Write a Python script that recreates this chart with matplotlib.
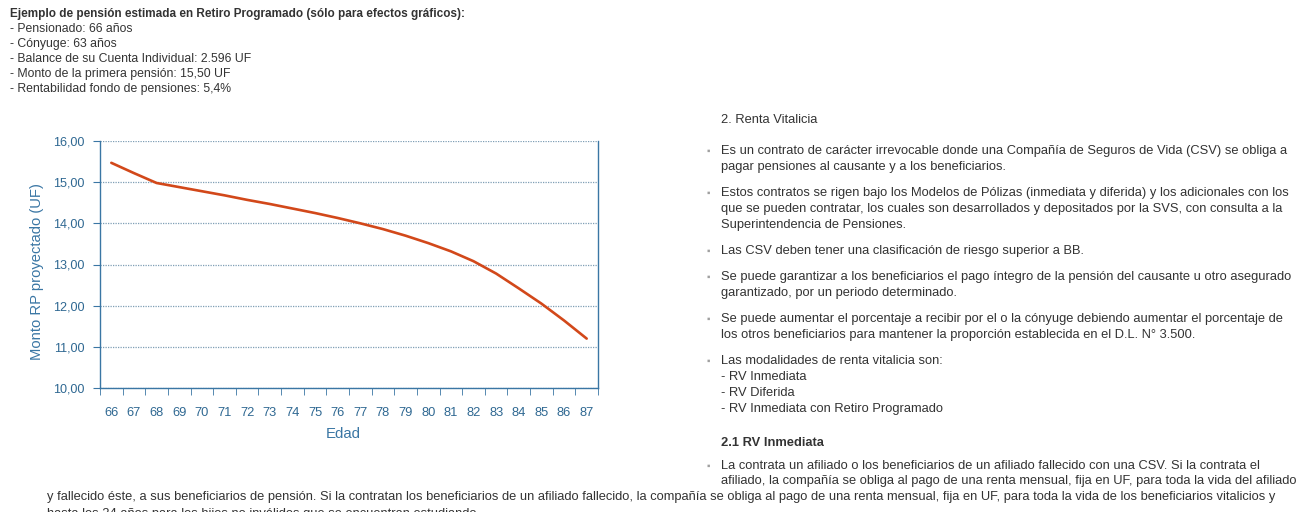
import matplotlib
matplotlib.use("Agg")
import matplotlib.pyplot as plt

# Ages (x categories) and projected pension (UF)
ages = [66, 67, 68, 69, 70, 71, 72, 73, 74, 75, 76, 77, 78, 79, 80, 81, 82, 83, 84, 85, 86, 87]
monto = [15.47, 15.22, 14.98, 14.88, 14.78, 14.68, 14.57, 14.47, 14.36, 14.25, 14.13, 14.00,
         13.86, 13.70, 13.52, 13.32, 13.08, 12.78, 12.42, 12.05, 11.64, 11.20]
yticks = [10, 11, 12, 13, 14, 15, 16]

header = "Ejemplo de pensión estimada en Retiro Programado (sólo para efectos gráficos):"
header_lines = [
    "- Pensionado: 66 años",
    "- Cónyuge: 63 años",
    "- Balance de su Cuenta Individual: 2.596 UF",
    "- Monto de la primera pensión: 15,50 UF",
    "- Rentabilidad fondo de pensiones: 5,4%",
]

bullets = [
    ["Es un contrato de carácter irrevocable donde una Compañía de Seguros de Vida (CSV) se obliga a",
     "pagar pensiones al causante y a los beneficiarios."],
    ["Estos contratos se rigen bajo los Modelos de Pólizas (inmediata y diferida) y los adicionales con los",
     "que se pueden contratar, los cuales son desarrollados y depositados por la SVS, con consulta a la",
     "Superintendencia de Pensiones."],
    ["Las CSV deben tener una clasificación de riesgo superior a BB."],
    ["Se puede garantizar a los beneficiarios el pago íntegro de la pensión del causante u otro asegurado",
     "garantizado, por un periodo determinado."],
    ["Se puede aumentar el porcentaje a recibir por el o la cónyuge debiendo aumentar el porcentaje de",
     "los otros beneficiarios para mantener la proporción establecida en el D.L. N° 3.500."],
    ["Las modalidades de renta vitalicia son:",
     "- RV Inmediata",
     "- RV Diferida",
     "- RV Inmediata con Retiro Programado"],
]

W, H = 1312, 512
plt.rcParams['font.family'] = ['Liberation Sans', 'DejaVu Sans']
fig = plt.figure(figsize=(W / 100, H / 100), dpi=100)
fig.patch.set_facecolor('white')

blue = '#3a76a4'
label_blue = '#2f6892'
txt = '#333333'
fs = 9.3

def put(x, y, s, **kw):
    # place text using pixel coordinates from the top-left corner
    kw.setdefault('fontsize', fs)
    kw.setdefault('color', txt)
    fig.text(x / W, 1 - y / H, s, va='center', ha=kw.pop('ha', 'left'), **kw)

# header block
put(10, 14, header, fontweight='bold', fontsize=8.5)
for i, s in enumerate(header_lines):
    put(10, 29 + i * 15, s, fontsize=8.8)

# chart
ax = fig.add_axes([100 / W, 1 - 388 / H, 498 / W, 247 / H])
x = list(range(len(ages)))
ax.plot(x, monto, color='#d2481a', lw=1.9, solid_capstyle='round')
ax.set_xlim(-0.5, len(ages) - 0.5)
ax.set_ylim(10, 16)
ax.set_yticks(yticks)
ax.set_yticklabels([f"{v:.2f}".replace('.', ',') for v in yticks])
ax.set_xticks(x)
ax.set_xticklabels([str(a) for a in ages])
ax.set_xticks([i - 0.5 for i in range(len(ages) + 1)], minor=True)
ax.tick_params(axis='x', which='major', length=0, pad=14, labelsize=9.3, labelcolor=label_blue)
ax.tick_params(axis='x', which='minor', length=5, color=blue, direction='out')
ax.tick_params(axis='y', length=5, color=blue, labelsize=9.1, labelcolor=label_blue, pad=6)
ax.grid(axis='y', color='#7f9fb5', linestyle=(0, (1, 1)), lw=0.9)
for side in ['left', 'bottom', 'right']:
    ax.spines[side].set_color(blue)
    ax.spines[side].set_linewidth(1.0)
ax.spines['top'].set_visible(False)
ax.set_xlabel('Edad', fontsize=10.8, color=blue)
ax.xaxis.label.set_va('center')
ax.xaxis.set_label_coords(243 / 498, -46 / 247)
ax.set_ylabel('Monto RP proyectado (UF)', fontsize=10.6, color=blue)
ax.yaxis.label.set_va('center')
ax.yaxis.set_label_coords(-63 / 498, 116 / 247)

# right text column
put(721, 120, "2. Renta Vitalicia")
rows = [[151, 167], [193, 209, 225], [251], [277, 293], [319, 335], [361, 377, 393, 409]]
for lines, ys in zip(bullets, rows):
    put(707, ys[0], "▪", fontsize=7, color='#a0a0a0')
    for s, y in zip(lines, ys):
        put(721, y, s)
put(721, 443, "2.1 RV Inmediata", fontweight='bold')
put(707, 466, "▪", fontsize=7, color='#a0a0a0')
put(721, 466, "La contrata un afiliado o los beneficiarios de un afiliado fallecido con una CSV. Si la contrata el")
put(721, 481, "afiliado, la compañía se obliga al pago de una renta mensual, fija en UF, para toda la vida del afiliado")
put(47, 497, "y fallecido éste, a sus beneficiarios de pensión. Si la contratan los beneficiarios de un afiliado fallecido, "
             "la compañía se obliga al pago de una renta mensual, fija en UF, para toda la vida de los beneficiarios vitalicios y")
put(47, 514, "hasta los 24 años para los hijos no inválidos que se encuentran estudiando.")

fig.savefig('out.png', dpi=100, facecolor='white')
